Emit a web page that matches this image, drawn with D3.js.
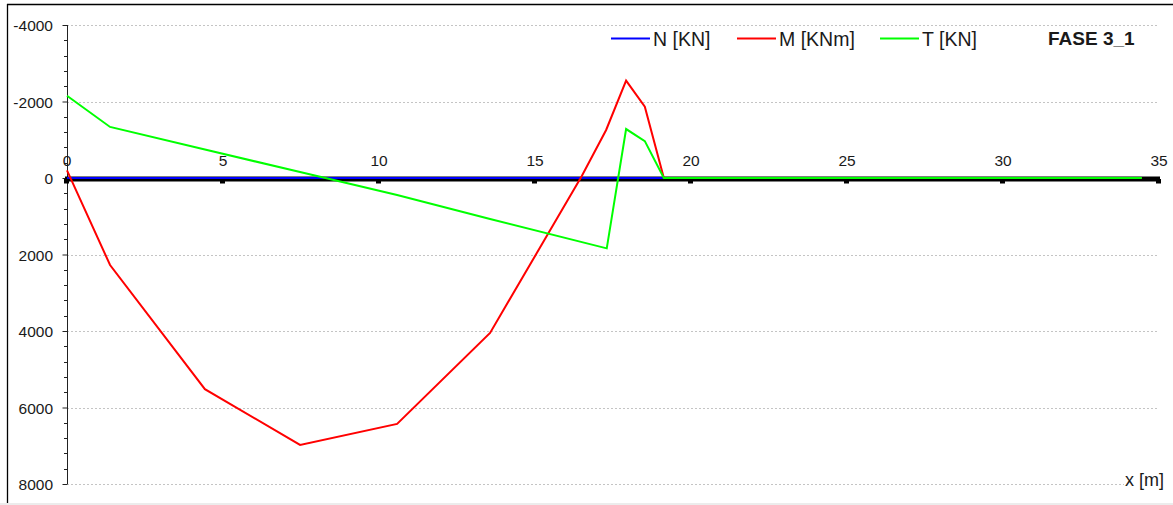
<!DOCTYPE html>
<html>
<head>
<meta charset="utf-8">
<script src="https://cdn.jsdelivr.net/npm/d3@7"></script>
<style>
  html, body { margin: 0; padding: 0; background: #fff; }
  svg { display: block; }
  text { font-family: "Liberation Sans", Arial, sans-serif; fill: #1a1a1a; }
</style>
</head>
<body>
<svg id="chart" width="1173" height="505"></svg>
<script>
// Internal forces along the beam, phase 3_1
const xTicks = [0, 5, 10, 15, 20, 25, 30, 35];
const yTicks = [-4000, -2000, 0, 2000, 4000, 6000, 8000];

// Axial force N [KN]
const nX = [0, 34.45];
const nVal = [0, 0];

// Bending moment M [KNm]
const mX = [0, 1.38, 4.42, 7.47, 10.58, 13.56, 16.5, 17.28, 17.92, 18.52, 19.13, 34.45];
const mVal = [-200, 2275, 5520, 6980, 6430, 4050, -50, -1255, -2545, -1865, 0, 0];

// Shear force T [KN]
const tX = [0, 1.38, 4.42, 7.47, 10.58, 13.56, 17.3, 17.92, 18.52, 19.13, 34.45];
const tVal = [-2150, -1335, -745, -155, 445, 1070, 1840, -1280, -965, 0, 0];

const seriesNames = ["N [KN]", "M [KNm]", "T [KN]"];
const seriesColors = ["#0000ff", "#ff0000", "#00ff00"];
const phaseTitle = "FASE 3_1";
const xTitle = "x [m]";

const svg = d3.select("#chart");
const W = 1173, H = 505;

// frame
svg.append("rect").attr("x", 0).attr("y", 503).attr("width", W).attr("height", 2).attr("fill", "#ececec");
svg.append("line").attr("x1", 7.5).attr("x2", 7.5).attr("y1", 4).attr("y2", 503)
  .attr("stroke", "#000").attr("stroke-width", 1.3);
svg.append("line").attr("x1", 7).attr("x2", W).attr("y1", 4.5).attr("y2", 4.5)
  .attr("stroke", "#000").attr("stroke-width", 1.3);

const x = d3.scaleLinear().domain([0, 35]).range([67, 1159]);
const y = d3.scaleLinear().domain([-4000, 8000]).range([25, 484]);

// horizontal dashed grid
svg.append("g").selectAll("line").data(yTicks.filter(v => v !== 0)).join("line")
  .attr("x1", x(0)).attr("x2", 1158)
  .attr("y1", d => Math.round(y(d)) + 0.5).attr("y2", d => Math.round(y(d)) + 0.5)
  .attr("stroke", "#c4c4c4").attr("stroke-width", 1).attr("stroke-dasharray", "2,2");

// y axis with minor ticks every 400 (plain hyphen for negatives)
const yAxisG = svg.append("g").attr("transform", `translate(${x(0) + 0.5},0)`);
yAxisG.call(d3.axisLeft(y).tickValues(yTicks).tickSize(5).tickPadding(9.5).tickFormat(d => String(d)));
yAxisG.select(".domain").attr("stroke", "#222").attr("d", `M0,${y(-4000)}V${y(8000)}`);
yAxisG.selectAll(".tick line").attr("stroke", "#222");
yAxisG.selectAll(".tick text").attr("font-family", "Liberation Sans, Arial, sans-serif")
  .attr("font-size", 15.5).attr("fill", "#1a1a1a").attr("dy", "0.36em");
const minor = d3.range(-4000, 8001, 400).filter(v => v % 2000 !== 0);
yAxisG.append("g").selectAll("line").data(minor).join("line")
  .attr("x1", -3.5).attr("x2", 0)
  .attr("y1", d => Math.round(y(d)) + 0.5).attr("y2", d => Math.round(y(d)) + 0.5)
  .attr("stroke", "#222");

// heavy zero baseline with its tick marks
const y0 = y(0);
svg.append("line").attr("x1", x(0) - 2).attr("x2", x(35) + 1)
  .attr("y1", y0 + 1).attr("y2", y0 + 1).attr("stroke", "#000").attr("stroke-width", 5);
svg.append("g").selectAll("rect").data(xTicks).join("rect")
  .attr("x", d => x(d) - 3).attr("y", y0 + 1).attr("width", 5).attr("height", 4.5)
  .attr("fill", "#000");
svg.append("g").selectAll("text").data(xTicks).join("text")
  .attr("x", d => x(d)).attr("y", y0 - 12)
  .attr("text-anchor", "middle").attr("font-size", 15.5)
  .text(d => d);

// series lines
const line = d3.line().x(d => x(d[0])).y(d => y(d[1]));
const series = [
  d3.zip(nX, nVal),
  d3.zip(mX, mVal),
  d3.zip(tX, tVal)
];
series.forEach((pts, i) => {
  svg.append("path").datum(pts)
    .attr("d", line)
    .attr("fill", "none")
    .attr("stroke", seriesColors[i])
    .attr("stroke-width", 2)
    .attr("stroke-linejoin", "miter");
});

// legend
const legendX = [611, 737, 880];
const legend = svg.append("g");
seriesNames.forEach((name, i) => {
  legend.append("line").attr("x1", legendX[i]).attr("x2", legendX[i] + 39)
    .attr("y1", 38.5).attr("y2", 38.5).attr("stroke", seriesColors[i]).attr("stroke-width", 2);
  legend.append("text").attr("x", legendX[i] + 42).attr("y", 45.5)
    .attr("font-size", 19.5).text(name);
});
svg.append("text").attr("x", 1048).attr("y", 45)
  .attr("font-size", 19).attr("font-weight", "bold").attr("fill", "#000").text(phaseTitle);

// x axis title on a white backing
const xt = svg.append("text").attr("x", 1125).attr("y", 486).attr("font-size", 18).text(xTitle);
const bb = xt.node().getBBox();
svg.insert("rect", () => xt.node())
  .attr("x", bb.x - 1).attr("y", bb.y).attr("width", bb.width + 2).attr("height", bb.height)
  .attr("fill", "#fff");
</script>
</body>
</html>
